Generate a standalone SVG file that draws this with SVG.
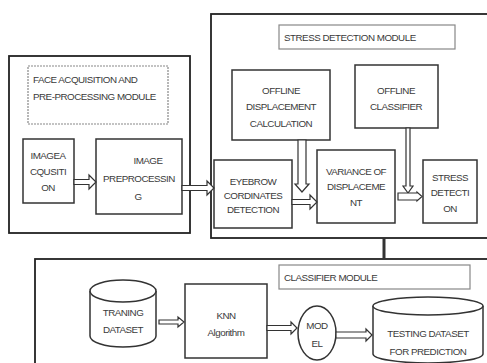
<svg xmlns="http://www.w3.org/2000/svg" width="487" height="363" viewBox="0 0 487 363">
<style>
.mod{fill:#fff;stroke:#222;stroke-width:1.8}
.ttl{fill:#fff;stroke:#888;stroke-width:1.2}
.box{fill:#fff;stroke:#333;stroke-width:1.5}
.arr{fill:#fff;stroke:#333;stroke-width:1.2;stroke-linejoin:miter}
text{font-family:"Liberation Sans",Arial,sans-serif;font-size:9.8px;fill:#3a3a3a;letter-spacing:-0.5px}
.c{text-anchor:middle}
</style>
<rect width="487" height="363" fill="#fff"/>
<g id="face-module">
<rect class="mod" x="9" y="56" width="181" height="177"/>
<rect class="ttl" x="28" y="66" width="140" height="58" stroke-dasharray="2 1"/>
<text x="33" y="83">FACE ACQUISITION AND</text>
<text x="33" y="100">PRE-PROCESSING MODULE</text>
</g>
<g id="image-acquisition">
<rect class="box" x="23" y="139" width="51" height="64"/>
<text class="c" x="48" y="159">IMAGEA</text>
<text class="c" x="48" y="175">CQUSITI</text>
<text class="c" x="48" y="191">ON</text>
</g>
<g id="image-preprocessing">
<rect class="box" x="96" y="139" width="86" height="75"/>
<text class="c" x="148" y="164">IMAGE</text>
<text class="c" x="139" y="182">PREPROCESSIN</text>
<text class="c" x="138" y="200">G</text>
</g>
<g id="stress-module">
<rect class="mod" x="211" y="14" width="290" height="224"/>
<rect class="ttl" x="279" y="25" width="176" height="24"/>
<text x="284" y="41">STRESS DETECTION MODULE</text>
</g>
<g id="offline-displacement">
<rect class="box" x="232" y="70" width="98" height="70"/>
<text class="c" x="281" y="94">OFFLINE</text>
<text class="c" x="281" y="110">DISPLACEMENT</text>
<text class="c" x="281" y="127">CALCULATION</text>
</g>
<g id="offline-classifier">
<rect class="box" x="355" y="65" width="83" height="63"/>
<text class="c" x="396" y="94">OFFLINE</text>
<text class="c" x="396" y="110">CLASSIFIER</text>
</g>
<g id="eyebrow">
<rect class="box" x="214" y="160" width="78" height="68"/>
<text class="c" x="253" y="185">EYEBROW</text>
<text class="c" x="253" y="199">CORDINATES</text>
<text class="c" x="253" y="213">DETECTION</text>
</g>
<g id="variance">
<rect class="box" x="317" y="150" width="78" height="73"/>
<text class="c" x="356" y="175">VARIANCE OF</text>
<text class="c" x="356" y="190">DISPLACEME</text>
<text class="c" x="356" y="206">NT</text>
</g>
<g id="stress-detection">
<rect class="box" x="423" y="160" width="54" height="63"/>
<text class="c" x="450" y="181">STRESS</text>
<text class="c" x="450" y="196">DETECTI</text>
<text class="c" x="450" y="212">ON</text>
</g>
<g id="classifier-module">
<rect class="mod" x="35" y="259" width="470" height="120"/>
<rect class="ttl" x="279" y="265" width="191" height="24"/>
<text x="284" y="281">CLASSIFIER MODULE</text>
</g>
<g id="training-dataset">
<path class="box" d="M90 291 V336 A33 11 0 0 0 156 336 V291"/>
<ellipse class="box" cx="123" cy="291" rx="33" ry="11"/>
<text class="c" x="123" y="316">TRANING</text>
<text class="c" x="123" y="333">DATASET</text>
</g>
<g id="knn">
<rect class="box" x="185" y="284" width="82" height="74"/>
<text class="c" x="226" y="319">KNN</text>
<text class="c" x="226" y="336">Algorithm</text>
</g>
<g id="model">
<ellipse class="box" cx="317" cy="333" rx="19" ry="27"/>
<text class="c" x="317" y="329">MOD</text>
<text class="c" x="317" y="347">EL</text>
</g>
<g id="testing-dataset">
<path class="box" d="M373 306 V354 A55 9 0 0 0 483 354 V306"/>
<ellipse class="box" cx="428" cy="306" rx="55" ry="9"/>
<text class="c" x="428" y="337">TESTING DATASET</text>
<text class="c" x="428" y="355">FOR PREDICTION</text>
</g>
<g id="connectors">
<path class="arr" d="M74 179.5 H89 V175 L96 182 L89 189 V184.5 H74 Z"/>
<path class="arr" d="M182 185.5 H207 V181 L214 188 L207 195 V190.5 H182 Z"/>
<path class="arr" d="M298 140 V184 H295 L302 192 L309 184 H306 V140 Z"/>
<path class="arr" d="M292 199.5 H310 V195 L317 202 L310 209 V204.5 H292 Z"/>
<path class="arr" d="M406 128 V186 H403 L408 193 L413 186 H410 V128 Z"/>
<path class="arr" d="M398 193 H417 V192 L422 196.5 L417 201 V200 H398 Z"/>
<line x1="384" y1="238" x2="384" y2="259" stroke="#333" stroke-width="3"/>
<path class="arr" d="M159 320 H178 V317 L184 322 L178 327 V324 H159 Z"/>
<path class="arr" d="M267 325.5 H291 V322 L297 328 L291 334 V330.5 H267 Z"/>
<path class="arr" d="M336 332 H366 V329 L372 335 L366 341 V338 H336 Z"/>
</g>
</svg>
